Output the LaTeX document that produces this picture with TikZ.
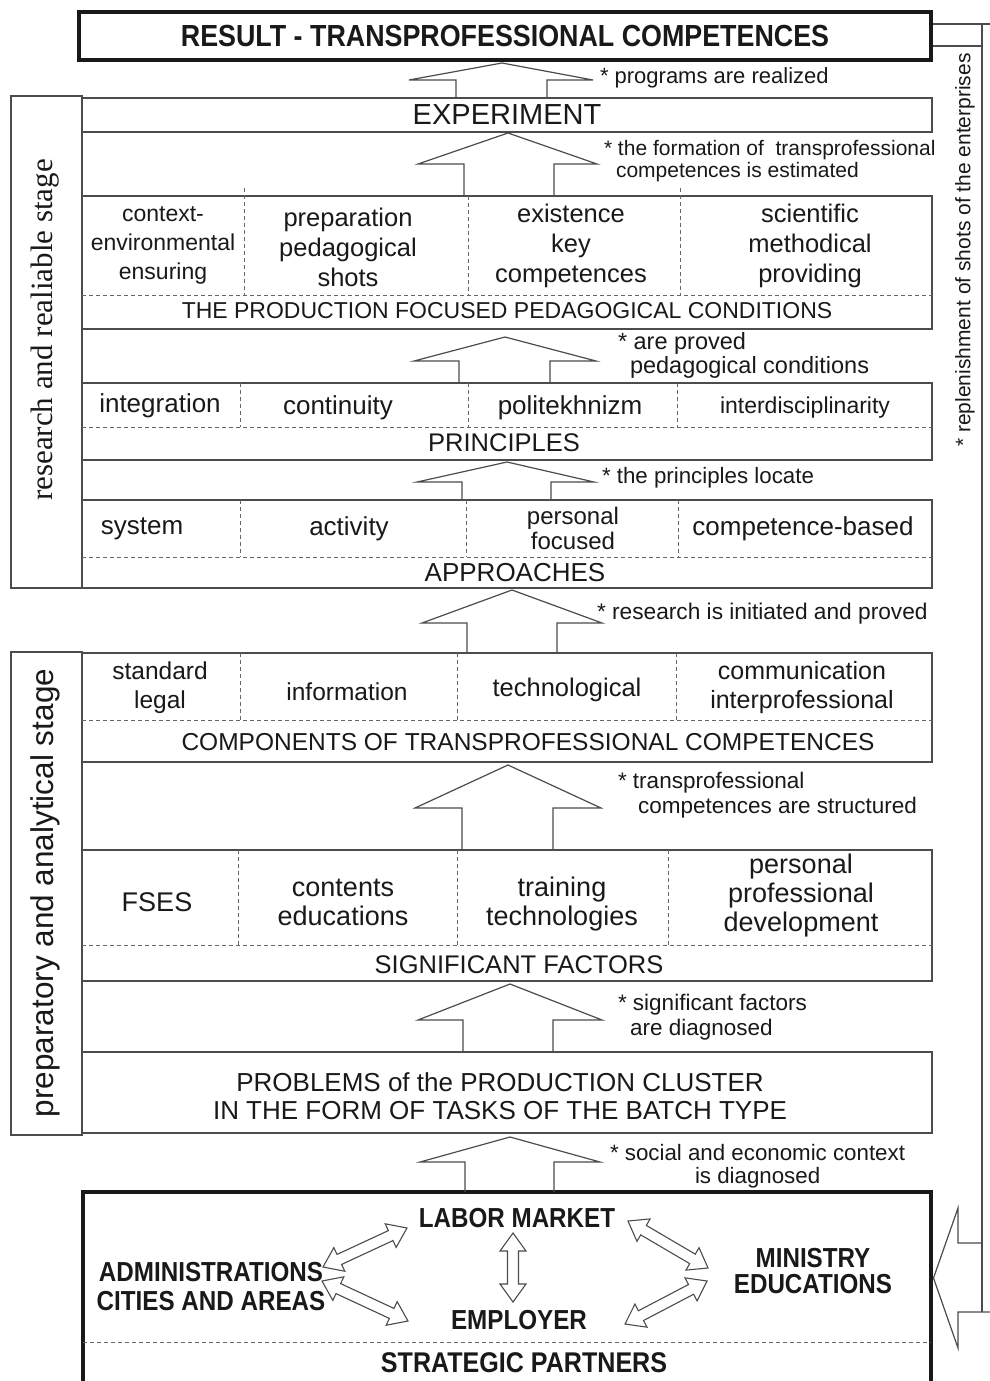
\documentclass[tikz,border=0pt]{standalone}
\usepackage{fontspec}
\setmainfont{Liberation Sans}
\newfontfamily\seriffam{Liberation Serif}
\newfontfamily\narrowfam[FakeStretch=0.88]{Liberation Sans}
\usetikzlibrary{calc}
\newcommand\fsz[2]{\fontsize{#1}{#2}\selectfont}
\definecolor{linegray}{gray}{0.3}
\definecolor{dashgray}{gray}{0.4}
\definecolor{txt}{gray}{0.1}
% block arrow up: lower, upper, shaftL, shaftR, headL, headR, tip (xshifts), base height, gap
\newcommand\blk[9]{\draw[blockarrow] ([xshift=#3pt]#1.north west) -- ([xshift=#3pt,yshift=#8pt]#1.north west) -- ([xshift=#5pt,yshift=#8pt]#1.north west) -- ([xshift=#7pt,yshift=-#9pt]#2.south west) -- ([xshift=#6pt,yshift=#8pt]#1.north west) -- ([xshift=#4pt,yshift=#8pt]#1.north west) -- ([xshift=#4pt]#1.north west);}
% outlined double arrow between two named coordinates
\newcommand\dbl[2]{\draw[dblarrow] (#1) -- ($(#1)!18pt!(#2)!13pt!90:(#2)$) -- ($(#1)!18pt!(#2)!5.5pt!90:(#2)$) -- ($(#2)!18pt!(#1)!5.5pt!-90:(#1)$) -- ($(#2)!18pt!(#1)!13pt!-90:(#1)$) -- (#2) -- ($(#2)!18pt!(#1)!13pt!90:(#1)$) -- ($(#2)!18pt!(#1)!5.5pt!90:(#1)$) -- ($(#1)!18pt!(#2)!5.5pt!-90:(#2)$) -- ($(#1)!18pt!(#2)!13pt!-90:(#2)$) -- cycle;}
\begin{document}
\begin{tikzpicture}[x=1pt,y=-1pt,
  box/.style={draw=linegray, line width=1.3pt, inner sep=0pt, outer sep=0pt, anchor=north west, minimum width=850pt, text=txt},
  thickbox/.style={draw=black!90, line width=4.5pt, inner sep=0pt, outer sep=0pt, anchor=north west, text=txt},
  stagebox/.style={draw=linegray, line width=1.3pt, inner sep=0pt, outer sep=0pt, anchor=north west, minimum width=71pt},
  dsh/.style={draw=dashgray, line width=0.9pt, dash pattern=on 4pt off 3pt},
  blockarrow/.style={draw=linegray, line width=1.2pt, line join=miter},
  dblarrow/.style={draw=linegray, line width=1.1pt, line join=miter},
  conn/.style={draw=linegray, line width=1.3pt},
  lbl/.style={inner sep=0pt, outer sep=0pt, text=txt, align=center},
  ann/.style={inner sep=0pt, outer sep=0pt, text=txt, anchor=west, align=left},
  bld/.style={lbl, font=\narrowfam\bfseries\fsz{27.5}{29}}
]
\useasboundingbox (0,0) rectangle (990,1381);
\fill[white] (0,0) rectangle (990,1381);

% ---------- boxes ----------
\node[thickbox, minimum width=852pt, minimum height=48pt, font=\narrowfam\bfseries\fsz{30.5}{32}] (res) at (79,12) {RESULT - TRANSPROFESSIONAL COMPETENCES};
\node[box, minimum height=34pt, font=\fsz{29}{30}] (exp) at (82,98) {EXPERIMENT};
\node[box, minimum height=133pt] (cond) at (82,196) {};
\node[box, minimum height=77pt] (prin) at (82,383) {};
\node[box, minimum height=88pt] (appr) at (82,500) {};
\node[box, minimum height=109pt] (comp) at (82,653) {};
\node[box, minimum height=131pt] (fact) at (82,850) {};
\node[box, minimum height=81pt] (prob) at (82,1052) {};
\node[thickbox, minimum width=848pt, minimum height=200pt] (part) at (83,1192) {};

\node[stagebox, minimum height=492pt] (st1) at (11,96) {};
\node[stagebox, minimum height=483pt] (st2) at (11,652) {};
\node[lbl, rotate=90, font=\seriffam\fsz{31}{33}] (st1t) at (45,330) {research and realiable stage};
\node[lbl, rotate=90, font=\fsz{31.5}{33}] (st2t) at (45,893) {preparatory and analytical stage};

% ---------- dashed divisions ----------
\draw[dsh] (82,295) -- (932,295);
\draw[dsh] (244,188) -- (244,295) (468,196) -- (468,295) (680,188) -- (680,295);
\draw[dsh] (82,427) -- (932,427);
\draw[dsh] (240,383) -- (240,427) (468,383) -- (468,427) (677,383) -- (677,427);
\draw[dsh] (82,557) -- (932,557);
\draw[dsh] (240,500) -- (240,557) (466,500) -- (466,557) (678,500) -- (678,557);
\draw[dsh] (82,720) -- (932,720);
\draw[dsh] (240,653) -- (240,720) (457,653) -- (457,720) (676,653) -- (676,720);
\draw[dsh] (82,945) -- (932,945);
\draw[dsh] (238,850) -- (238,945) (457,850) -- (457,945) (668,850) -- (668,945);
\draw[dsh] (83,1342) -- (931,1342);

% ---------- row texts ----------
\node[lbl, font=\fsz{23}{29}] (c1) at (163,245) {context-\\environmental\\ensuring};
\node[lbl, font=\fsz{25.5}{30}] (c2) at (348,247) {preparation\\pedagogical\\shots};
\node[lbl, font=\fsz{25.5}{30}] (c3) at (571,246) {existence\\key\\competences};
\node[lbl, font=\fsz{25.5}{30}] (c4) at (810,246) {scientific\\methodical\\providing};
\node[lbl, font=\fsz{23}{25}] (ct) at (507,311) {THE PRODUCTION FOCUSED PEDAGOGICAL CONDITIONS};

\node[lbl, font=\fsz{26}{28}] (p1) at (160,406) {integration};
\node[lbl, font=\fsz{26}{28}] (p2) at (338,408) {continuity};
\node[lbl, font=\fsz{26}{28}] (p3) at (570,408) {politekhnizm};
\node[lbl, font=\fsz{23}{26}] (p4) at (805,408) {interdisciplinarity};
\node[lbl, font=\fsz{25.5}{28}] (pt) at (504,443) {PRINCIPLES};

\node[lbl, font=\fsz{26}{28}] (a1) at (142,529) {system};
\node[lbl, font=\fsz{26}{28}] (a2) at (349,529) {activity};
\node[lbl, font=\fsz{24}{25}] (a3) at (573,528) {personal\\focused};
\node[lbl, font=\fsz{26}{28}] (a4) at (803,529) {competence-based};
\node[lbl, font=\fsz{26}{28}] (at) at (515,573) {APPROACHES};

\node[lbl, font=\fsz{24.5}{29}] (k1) at (160,688) {standard\\legal};
\node[lbl, font=\fsz{24.5}{29}] (k2) at (347,692) {information};
\node[lbl, font=\fsz{25.5}{29}] (k3) at (567,690) {technological};
\node[lbl, font=\fsz{25}{29}] (k4) at (802,688) {communication\\interprofessional};
\node[lbl, font=\fsz{24.5}{27}] (kt) at (528,742) {COMPONENTS OF TRANSPROFESSIONAL COMPETENCES};

\node[lbl, font=\fsz{27}{29}] (f1) at (157,902) {FSES};
\node[lbl, font=\fsz{27}{29}] (f2) at (343,902) {contents\\educations};
\node[lbl, font=\fsz{27}{29}] (f3) at (562,904) {training\\technologies};
\node[lbl, font=\fsz{27}{29}] (f4) at (801,896) {personal\\professional\\development};
\node[lbl, font=\fsz{25.5}{28}] (ft) at (519,965) {SIGNIFICANT FACTORS};

\node[lbl, font=\fsz{26}{28}] (pr) at (500,1096) {PROBLEMS of the PRODUCTION CLUSTER\\IN THE FORM OF TASKS OF THE BATCH TYPE};

% ---------- partners ----------
\node[bld] (lm) at (517,1218) {LABOR MARKET};
\node[bld] (em) at (519,1320) {EMPLOYER};
\node[bld] (ad) at (211,1287) {ADMINISTRATIONS\\CITIES AND AREAS};
\node[bld, font=\narrowfam\bfseries\fsz{27.5}{26}] (mi) at (813,1271) {MINISTRY\\EDUCATIONS};
\node[lbl, font=\narrowfam\bfseries\fsz{28.5}{30}] (sp) at (524,1363) {STRATEGIC PARTNERS};

\coordinate (d1a) at (323,1267); \coordinate (d1b) at (407,1228);
\coordinate (d2a) at (322,1281); \coordinate (d2b) at (408,1321);
\coordinate (d3a) at (513,1233); \coordinate (d3b) at (513,1302);
\coordinate (d4a) at (628,1221); \coordinate (d4b) at (708,1268);
\coordinate (d5a) at (625,1324); \coordinate (d5b) at (707,1281);
\dbl{d1a}{d1b}
\dbl{d2a}{d2b}
\dbl{d3a}{d3b}
\dbl{d4a}{d4b}
\dbl{d5a}{d5b}

% ---------- up block arrows ----------
\blk{exp}{res}{374}{465}{327}{511}{423}{18}{3}
\blk{cond}{exp}{382}{472}{336}{515}{426}{32}{1}
\blk{prin}{cond}{377}{468}{332}{514}{423}{22}{8}
\blk{appr}{prin}{380}{469}{335}{512}{425}{18}{2}
\blk{comp}{appr}{385}{475}{340}{520}{430}{30}{2}
\blk{fact}{comp}{380}{471}{333}{519}{426}{42}{3}
\blk{prob}{fact}{381}{471}{336}{520}{428}{32}{3}
\blk{part}{prob}{382}{471}{337}{517}{428}{30}{4}

% ---------- annotations ----------
\node[ann, font=\fsz{22}{24}] (n1) at (600,78) {* programs are realized};
\node[ann, font=\fsz{21}{23}] (n2a) at (604,150) {* the formation of\ \ transprofessional};
\node[ann, font=\fsz{21}{23}] (n2b) at (616,172) {competences is estimated};
\node[ann, font=\fsz{23.5}{25}] (n3a) at (618,343) {* are proved};
\node[ann, font=\fsz{23.5}{25}] (n3b) at (630,367) {pedagogical conditions};
\node[ann, font=\fsz{22.3}{24}] (n4) at (602,478) {* the principles locate};
\node[ann, font=\fsz{22.7}{24}] (n5) at (597,614) {* research is initiated and proved};
\node[ann, font=\fsz{22.5}{24}] (n6a) at (618,783) {* transprofessional};
\node[ann, font=\fsz{22.5}{24}] (n6b) at (638,808) {competences are structured};
\node[ann, font=\fsz{22.5}{24}] (n7a) at (618,1005) {* significant factors};
\node[ann, font=\fsz{22.5}{24}] (n7b) at (630,1030) {are diagnosed};
\node[ann, font=\fsz{22.3}{24}] (n8a) at (610,1153) {* social and economic context};
\node[ann, font=\fsz{22.3}{24}] (n8b) at (695,1178) {is diagnosed};
\node[lbl, rotate=90, font=\fsz{21}{23}] (rep) at (965,250) {* replenishment of shots of the enterprises};

% ---------- right feedback line ----------
\coordinate (rt1) at (990,24);
\coordinate (rt2) at (982,46);
\coordinate (rtop) at (982,24);
\coordinate (rbot) at (982,1312);
\draw[conn] ([xshift=2pt,yshift=-12pt]res.north east) -- (rt1);
\draw[conn] ([xshift=2pt,yshift=-34pt]res.north east) -- (rt2);
\draw[conn] (rtop) -- (rbot);
\draw[blockarrow] (990,1312) -- (958,1312) -- (958,1348) -- ([xshift=2.5pt,yshift=-86pt]part.north east) -- (958,1208) -- (958,1243) -- (982,1243);
\end{tikzpicture}
\end{document}
